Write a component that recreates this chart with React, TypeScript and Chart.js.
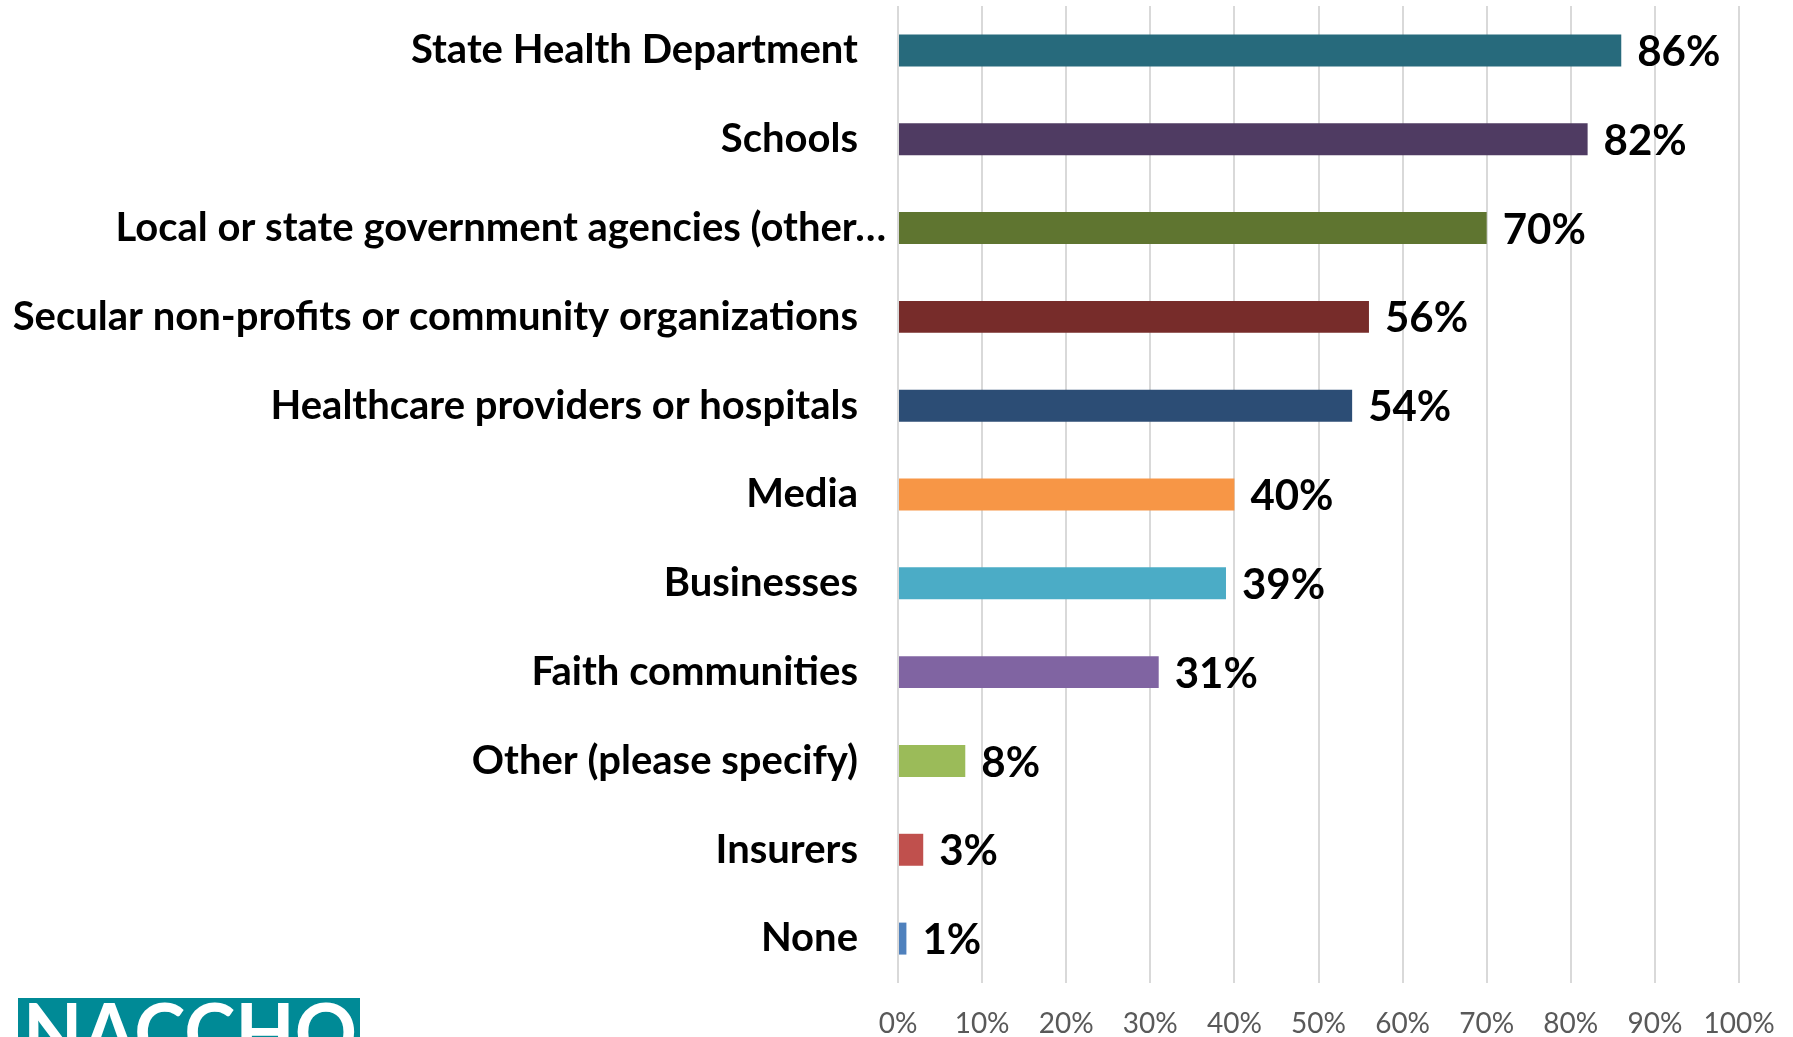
import React, { useEffect, useRef } from "react";
import { Chart, registerables } from "chart.js";

Chart.register(...registerables);

const categories = [
  "State Health Department",
  "Schools",
  "Local or state government agencies (other…",
  "Secular non-profits or community organizations",
  "Healthcare providers or hospitals",
  "Media",
  "Businesses",
  "Faith communities",
  "Other (please specify)",
  "Insurers",
  "None",
];

const values = [86, 82, 70, 56, 54, 40, 39, 31, 8, 3, 1];

const barColors = [
  "#276A7C",
  "#4F3B62",
  "#5F7530",
  "#772C2A",
  "#2C4D75",
  "#F79646",
  "#4BACC6",
  "#8064A2",
  "#9BBB59",
  "#C0504D",
  "#4F81BD",
];

const xTickMax = 100;
const xTickStep = 10;
const logoText = "NACCHO";
const truncatedIndex = 2;

const W = 1793;
const H = 1037;

export default function App() {
  const ref = useRef<HTMLCanvasElement | null>(null);

  useEffect(() => {
    document.body.style.margin = "0";
    const canvas = ref.current;
    if (!canvas) return;

    const valueLabels = {
      id: "valueLabels",
      afterDatasetsDraw(chart: any) {
        const ctx = chart.ctx;
        const meta = chart.getDatasetMeta(0);
        ctx.save();
        ctx.font = "bold 42px Lato";
        ctx.fillStyle = "#000000";
        ctx.textAlign = "left";
        ctx.textBaseline = "middle";
        meta.data.forEach((bar: any, i: number) => {
          ctx.fillText(values[i] + "%", bar.x + 16, bar.y + 2);
        });
        // truncated category label extends closer to the axis (as in the original)
        const ys = chart.scales.y;
        ctx.font = "bold 40px Lato";
        ctx.textAlign = "right";
        ctx.fillText(categories[truncatedIndex], 886, ys.getPixelForTick(truncatedIndex));
        ctx.restore();
      },
    };

    const logo = {
      id: "logo",
      afterDraw(chart: any) {
        const ctx = chart.ctx;
        ctx.save();
        ctx.fillStyle = "#008A96";
        const x0 = 18, x1 = 360, y0 = 998;
        ctx.fillRect(x0, y0, x1 - x0, H - y0);
        ctx.font = "bold 80px Lato";
        const m = ctx.measureText(logoText);
        const targetW = 334;
        const sx = targetW / m.width;
        ctx.translate(23, 1003 + 0.72 * 80);
        ctx.scale(sx, 1);
        ctx.fillStyle = "#FFFFFF";
        ctx.textBaseline = "alphabetic";
        ctx.textAlign = "left";
        ctx.fillText(logoText, 0, 0);
        ctx.restore();
      },
    };

    const chart = new Chart(canvas, {
      type: "bar",
      data: {
        labels: categories,
        datasets: [
          {
            data: values,
            backgroundColor: barColors,
            borderWidth: 0,
            categoryPercentage: 1,
            barPercentage: 0.36,
          },
        ],
      },
      options: {
        indexAxis: "y",
        responsive: false,
        animation: false,
        devicePixelRatio: 1,
        layout: { padding: { left: 0, right: 54, top: 6, bottom: 0 } },
        plugins: {
          legend: { display: false },
          tooltip: { enabled: false },
        },
        scales: {
          x: {
            min: 0,
            max: xTickMax,
            position: "bottom",
            ticks: {
              stepSize: xTickStep,
              callback: (v: any) => v + "%",
              color: "#595959",
              font: { family: "Lato", size: 28 },
              padding: 24,
              maxRotation: 0,
            },
            grid: {
              color: "#D9D9D9",
              lineWidth: 2,
              drawTicks: false,
            },
            border: { display: false },
            afterFit: (s: any) => {
              s.height = 54;
              s.paddingLeft = 0;
              s.paddingRight = 0;
            },
          },
          y: {
            ticks: {
              color: (c: any) => (c.index === truncatedIndex ? "rgba(0,0,0,0)" : "#000000"),
              font: { family: "Lato", size: 40, weight: "bold" },
              padding: 40,
              autoSkip: false,
            },
            grid: { display: false, drawTicks: false },
            border: { display: false },
            afterFit: (s: any) => {
              s.width = 898;
              s.paddingTop = 0;
              s.paddingBottom = 0;
            },
          },
        },
      },
      plugins: [valueLabels, logo],
    });

    return () => chart.destroy();
  }, []);

  return (
    <div style={{ width: W, height: H, position: "relative", background: "#fff" }}>
      <canvas ref={ref} width={W} height={H} style={{ display: "block" }} />
    </div>
  );
}
